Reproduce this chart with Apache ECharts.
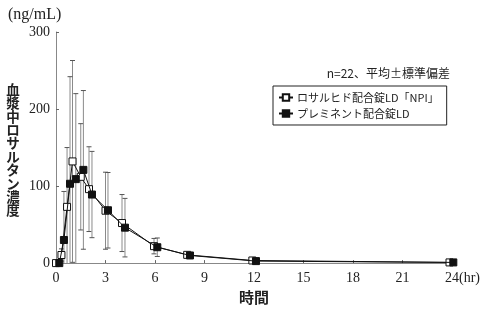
<!DOCTYPE html>
<html><head><meta charset="utf-8">
<script src="https://cdn.jsdelivr.net/npm/echarts@6/dist/echarts.min.js"></script>
<style>html,body{margin:0;padding:0;background:#fff}#c{width:483px;height:310px}</style>
</head><body><div id="c"></div>
<script>
// Data
var seriesNames = ['ロサルヒド配合錠LD「NPI」', 'プレミネント配合錠LD'];
var timesA = [0, 0.33, 0.67, 1, 1.5, 2, 3, 4, 5.94, 7.95, 11.9, 23.85];
var meanA  = [0, 10.5, 73, 132, 112, 96, 68, 52, 22, 10.7, 3.4, 0.9];
var sdA    = [0, 8, 77, 131, 69, 55, 50, 37, 10, 3, 1.5, 0.3];
var timesB = [0.2, 0.48, 0.85, 1.2, 1.66, 2.18, 3.15, 4.18, 6.14, 8.12, 12.12, 24.08];
var meanB  = [0, 30, 103, 109, 121, 89, 68.6, 46, 20.6, 9.9, 2.6, 0.9];
var sdB    = [0, 63, 139, 111, 103, 56, 49, 38, 12, 3, 1, 0.3];
var xTicks = [0, 3, 6, 9, 12, 15, 18, 21, 24];
var yTicks = [0, 100, 200, 300];

var SERIF = '"Liberation Serif","Noto Sans CJK JP",serif';
var JP = '"Noto Sans CJK JP","Liberation Serif",sans-serif';

function pairs(t, v) { return t.map(function (x, i) { return [x, v[i]]; }); }
function errData(t, v, s) { return t.map(function (x, i) { return [x, v[i], s[i]]; }); }

function errRender(params, api) {
  var x = api.value(0), m = api.value(1), s = api.value(2);
  if (!s) return;
  var lo = Math.max(0, m - s), hi = m + s;
  var pHi = api.coord([x, hi]), pLo = api.coord([x, lo]);
  var w = 2.5;
  var ch = [{ type: 'line', shape: { x1: pHi[0], y1: pHi[1], x2: pLo[0], y2: pLo[1] }, style: { stroke: '#8a8a8a', lineWidth: 1 } },
            { type: 'line', shape: { x1: pHi[0] - w, y1: pHi[1], x2: pHi[0] + w, y2: pHi[1] }, style: { stroke: '#555', lineWidth: 1 } }];
  if (m - s > 0) ch.push({ type: 'line', shape: { x1: pLo[0] - w, y1: pLo[1], x2: pLo[0] + w, y2: pLo[1] }, style: { stroke: '#555', lineWidth: 1 } });
  return { type: 'group', children: ch };
}

var chart = echarts.init(document.getElementById('c'), null, { renderer: 'canvas' });
chart.setOption({
  animation: false,
  title: { text: '(ng/mL)', left: 3, top: 2, textStyle: { fontFamily: SERIF, fontSize: 16, fontWeight: 'normal', color: '#222' } },
  grid: { left: 56, right: 31, top: 32, bottom: 45 },
  legend: {
    data: seriesNames, orient: 'vertical', left: 273, top: 86,
    borderColor: '#222', borderWidth: 1, padding: [6, 8, 6, 5], itemGap: 5,
    itemWidth: 14, itemHeight: 8,
    textStyle: { fontFamily: JP, fontSize: 11, color: '#222', padding: [0, 0, 0, -1] }
  },
  graphic: [
    { type: 'text', right: 33, top: 67, style: { text: 'n=22、平均±標準偏差', font: '12px ' + JP, fill: '#222' } },
    { type: 'text', x: 13, y: 150, style: { text: '血\n漿\n中\nロ\nサ\nル\nタ\nン\n濃\n度', font: 'bold 13.5px ' + JP, fill: '#222', align: 'center', verticalAlign: 'middle', lineHeight: 13.4 } }
  ],
  xAxis: {
    type: 'value', min: 0, max: 24, interval: 3,
    name: '時間', nameLocation: 'middle', nameGap: 26,
    nameTextStyle: { fontFamily: JP, fontSize: 15, fontWeight: 'bold', color: '#222' },
    axisLine: { lineStyle: { color: '#888' } },
    axisTick: { inside: true, length: 3, lineStyle: { color: '#666' } },
    splitLine: { show: false },
    axisLabel: {
      margin: 8, fontFamily: SERIF, fontSize: 14, color: '#222',
      formatter: function (v) { return v === 24 ? '{h|(hr)}24(hr)' : String(v); },
      rich: { h: { color: 'rgba(0,0,0,0)', fontFamily: SERIF, fontSize: 14 } }
    }
  },
  yAxis: {
    type: 'value', min: 0, max: 300, interval: 100,
    axisLine: { show: true, lineStyle: { color: '#888' } },
    axisTick: { show: true, inside: true, length: 3, lineStyle: { color: '#666' } },
    splitLine: { show: false },
    axisLabel: { margin: 6, fontFamily: SERIF, fontSize: 14, color: '#222' }
  },
  series: [
    { type: 'custom', name: 'errA', renderItem: errRender, data: errData(timesA, meanA, sdA), z: 1, clip: false, silent: true },
    { type: 'custom', name: 'errB', renderItem: errRender, data: errData(timesB, meanB, sdB), z: 1, clip: false, silent: true },
    { type: 'line', name: seriesNames[0], data: pairs(timesA, meanA), symbol: 'rect', symbolSize: 7, clip: false,
      lineStyle: { color: '#111', width: 1 }, itemStyle: { color: '#fff', borderColor: '#111', borderWidth: 1 }, z: 3 },
    { type: 'line', name: seriesNames[1], data: pairs(timesB, meanB), symbol: 'rect', symbolSize: 7, clip: false,
      lineStyle: { color: '#111', width: 1 }, itemStyle: { color: '#111', borderColor: '#111', borderWidth: 1 }, z: 4 }
  ]
});
</script></body></html>
